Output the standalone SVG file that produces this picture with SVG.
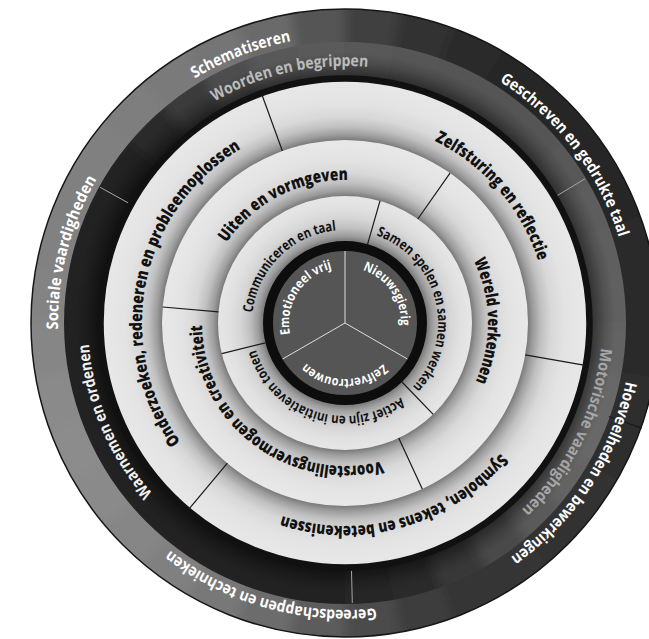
<svg xmlns="http://www.w3.org/2000/svg" width="649" height="639" viewBox="0 0 649 639">
<defs>
<style>
.lbl{font-family:"Open Sans","Noto Sans","DejaVu Sans",sans-serif;text-anchor:middle}
.b1t{font-size:16px;font-weight:700;fill:#ffffff}
.b2t{font-size:16px;font-weight:700}
.rt{font-size:17px;font-weight:800;fill:#111111}
.rc{font-size:14px;font-weight:700;fill:#111111}
.ct{font-size:13px;font-weight:700;fill:#ffffff}
.w1{fill:none;stroke-width:60}
.div{stroke:#1a1a1a;stroke-width:1.2;fill:none}
.divl{stroke:#a6a6a6;stroke-width:1;fill:none}
.spoke{stroke:#dddddd;stroke-width:1;fill:none}
</style>
<filter id="soft" filterUnits="userSpaceOnUse" x="-30" y="-30" width="750" height="720"><feGaussianBlur stdDeviation="6"/></filter>
<clipPath id="clip1"><path clip-rule="evenodd" d="M659 323A314 314 0 1 1 31 323A314 314 0 1 1 659 323ZM625 323A280 280 0 1 1 65 323A280 280 0 1 1 625 323Z"/></clipPath>
<clipPath id="clip2"><path clip-rule="evenodd" d="M626 323A281 281 0 1 1 64 323A281 281 0 1 1 626 323ZM592 323A247 247 0 1 1 98 323A247 247 0 1 1 592 323Z"/></clipPath>
<radialGradient id="shade2" gradientUnits="userSpaceOnUse" cx="345" cy="323" r="280">
<stop offset="0" stop-color="#000" stop-opacity="0.45"/>
<stop offset="0.885" stop-color="#000" stop-opacity="0.45"/>
<stop offset="0.93" stop-color="#000" stop-opacity="0.15"/>
<stop offset="0.965" stop-color="#000" stop-opacity="0"/>
<stop offset="1" stop-color="#000" stop-opacity="0"/>
</radialGradient>
<radialGradient id="gA" gradientUnits="userSpaceOnUse" cx="345" cy="323" r="244.5">
<stop offset="0.748" stop-color="#7a7a7a"/>
<stop offset="0.77" stop-color="#9c9c9c"/>
<stop offset="0.803" stop-color="#c0c0c0"/>
<stop offset="0.844" stop-color="#d8d8d8"/>
<stop offset="0.9" stop-color="#e3e3e3"/>
<stop offset="1" stop-color="#e8e8e8"/>
</radialGradient>
<radialGradient id="gB" gradientUnits="userSpaceOnUse" cx="345" cy="323" r="183">
<stop offset="0.694" stop-color="#7a7a7a"/>
<stop offset="0.721" stop-color="#9c9c9c"/>
<stop offset="0.765" stop-color="#c0c0c0"/>
<stop offset="0.82" stop-color="#d8d8d8"/>
<stop offset="0.896" stop-color="#e3e3e3"/>
<stop offset="1" stop-color="#e8e8e8"/>
</radialGradient>
<radialGradient id="gC" gradientUnits="userSpaceOnUse" cx="345" cy="323" r="127">
<stop offset="0.6457" stop-color="#7a7a7a"/>
<stop offset="0.685" stop-color="#9c9c9c"/>
<stop offset="0.748" stop-color="#c0c0c0"/>
<stop offset="0.827" stop-color="#d6d6d6"/>
<stop offset="0.913" stop-color="#e1e1e1"/>
<stop offset="1" stop-color="#e6e6e6"/>
</radialGradient>
<path id="p56" d="M401 323A56 56 0 0 1 289 323A56 56 0 0 1 401 323A56 56 0 0 1 289 323A56 56 0 0 1 401 323"/>
<path id="p93" d="M438 323A93 93 0 0 1 252 323A93 93 0 0 1 438 323A93 93 0 0 1 252 323A93 93 0 0 1 438 323"/>
<path id="p143" d="M488 323A143 143 0 0 1 202 323A143 143 0 0 1 488 323A143 143 0 0 1 202 323A143 143 0 0 1 488 323"/>
<path id="p203" d="M548 323A203 203 0 0 1 142 323A203 203 0 0 1 548 323A203 203 0 0 1 142 323A203 203 0 0 1 548 323"/>
<path id="p257" d="M602 323A257 257 0 0 1 88 323A257 257 0 0 1 602 323A257 257 0 0 1 88 323A257 257 0 0 1 602 323"/>
<path id="p287" d="M632 323A287 287 0 0 1 58 323A287 287 0 0 1 632 323A287 287 0 0 1 58 323A287 287 0 0 1 632 323"/>
</defs>

<rect width="649" height="639" fill="#ffffff"/>

<!-- outer band 1 -->
<g clip-path="url(#clip1)">
<g filter="url(#soft)">
<g class="w1" stroke-dasharray="10.6 349.4">
<circle cx="345" cy="323" r="297" pathLength="360" stroke="#2c2c2c" transform="rotate(0 345 323)"/>
<circle cx="345" cy="323" r="297" pathLength="360" stroke="#2e2e2e" transform="rotate(10 345 323)"/>
<circle cx="345" cy="323" r="297" pathLength="360" stroke="#2f2f2f" transform="rotate(20 345 323)"/>
<circle cx="345" cy="323" r="297" pathLength="360" stroke="#313131" transform="rotate(30 345 323)"/>
<circle cx="345" cy="323" r="297" pathLength="360" stroke="#333333" transform="rotate(40 345 323)"/>
<circle cx="345" cy="323" r="297" pathLength="360" stroke="#343434" transform="rotate(50 345 323)"/>
<circle cx="345" cy="323" r="297" pathLength="360" stroke="#363636" transform="rotate(60 345 323)"/>
<circle cx="345" cy="323" r="297" pathLength="360" stroke="#3e3e3e" transform="rotate(70 345 323)"/>
<circle cx="345" cy="323" r="297" pathLength="360" stroke="#4c4c4c" transform="rotate(80 345 323)"/>
<circle cx="345" cy="323" r="297" pathLength="360" stroke="#5c5c5c" transform="rotate(90 345 323)"/>
<circle cx="345" cy="323" r="297" pathLength="360" stroke="#6c6c6c" transform="rotate(100 345 323)"/>
<circle cx="345" cy="323" r="297" pathLength="360" stroke="#787878" transform="rotate(110 345 323)"/>
<circle cx="345" cy="323" r="297" pathLength="360" stroke="#808080" transform="rotate(120 345 323)"/>
<circle cx="345" cy="323" r="297" pathLength="360" stroke="#868686" transform="rotate(130 345 323)"/>
<circle cx="345" cy="323" r="297" pathLength="360" stroke="#8a8a8a" transform="rotate(140 345 323)"/>
<circle cx="345" cy="323" r="297" pathLength="360" stroke="#8c8c8c" transform="rotate(150 345 323)"/>
<circle cx="345" cy="323" r="297" pathLength="360" stroke="#8a8a8a" transform="rotate(160 345 323)"/>
<circle cx="345" cy="323" r="297" pathLength="360" stroke="#868686" transform="rotate(170 345 323)"/>
<circle cx="345" cy="323" r="297" pathLength="360" stroke="#838383" transform="rotate(180 345 323)"/>
<circle cx="345" cy="323" r="297" pathLength="360" stroke="#818181" transform="rotate(190 345 323)"/>
<circle cx="345" cy="323" r="297" pathLength="360" stroke="#808080" transform="rotate(200 345 323)"/>
<circle cx="345" cy="323" r="297" pathLength="360" stroke="#808080" transform="rotate(210 345 323)"/>
<circle cx="345" cy="323" r="297" pathLength="360" stroke="#7e7e7e" transform="rotate(220 345 323)"/>
<circle cx="345" cy="323" r="297" pathLength="360" stroke="#7a7a7a" transform="rotate(230 345 323)"/>
<circle cx="345" cy="323" r="297" pathLength="360" stroke="#747474" transform="rotate(240 345 323)"/>
<circle cx="345" cy="323" r="297" pathLength="360" stroke="#6a6a6a" transform="rotate(250 345 323)"/>
<circle cx="345" cy="323" r="297" pathLength="360" stroke="#555555" transform="rotate(260 345 323)"/>
<circle cx="345" cy="323" r="297" pathLength="360" stroke="#404040" transform="rotate(270 345 323)"/>
<circle cx="345" cy="323" r="297" pathLength="360" stroke="#323232" transform="rotate(280 345 323)"/>
<circle cx="345" cy="323" r="297" pathLength="360" stroke="#2a2a2a" transform="rotate(290 345 323)"/>
<circle cx="345" cy="323" r="297" pathLength="360" stroke="#282828" transform="rotate(300 345 323)"/>
<circle cx="345" cy="323" r="297" pathLength="360" stroke="#272727" transform="rotate(310 345 323)"/>
<circle cx="345" cy="323" r="297" pathLength="360" stroke="#262626" transform="rotate(320 345 323)"/>
<circle cx="345" cy="323" r="297" pathLength="360" stroke="#272727" transform="rotate(330 345 323)"/>
<circle cx="345" cy="323" r="297" pathLength="360" stroke="#292929" transform="rotate(340 345 323)"/>
<circle cx="345" cy="323" r="297" pathLength="360" stroke="#2b2b2b" transform="rotate(350 345 323)"/>
</g>
</g>
</g>

<!-- band 2 -->
<g clip-path="url(#clip2)">
<g filter="url(#soft)">
<g class="w1" stroke-dasharray="10.6 349.4">
<circle cx="345" cy="323" r="263.5" pathLength="360" stroke="#636363" transform="rotate(0 345 323)"/>
<circle cx="345" cy="323" r="263.5" pathLength="360" stroke="#686868" transform="rotate(10 345 323)"/>
<circle cx="345" cy="323" r="263.5" pathLength="360" stroke="#686868" transform="rotate(20 345 323)"/>
<circle cx="345" cy="323" r="263.5" pathLength="360" stroke="#636363" transform="rotate(30 345 323)"/>
<circle cx="345" cy="323" r="263.5" pathLength="360" stroke="#5a5a5a" transform="rotate(40 345 323)"/>
<circle cx="345" cy="323" r="263.5" pathLength="360" stroke="#494949" transform="rotate(50 345 323)"/>
<circle cx="345" cy="323" r="263.5" pathLength="360" stroke="#393939" transform="rotate(60 345 323)"/>
<circle cx="345" cy="323" r="263.5" pathLength="360" stroke="#2c2c2c" transform="rotate(70 345 323)"/>
<circle cx="345" cy="323" r="263.5" pathLength="360" stroke="#282828" transform="rotate(80 345 323)"/>
<circle cx="345" cy="323" r="263.5" pathLength="360" stroke="#222222" transform="rotate(90 345 323)"/>
<circle cx="345" cy="323" r="263.5" pathLength="360" stroke="#222222" transform="rotate(100 345 323)"/>
<circle cx="345" cy="323" r="263.5" pathLength="360" stroke="#222222" transform="rotate(110 345 323)"/>
<circle cx="345" cy="323" r="263.5" pathLength="360" stroke="#222222" transform="rotate(120 345 323)"/>
<circle cx="345" cy="323" r="263.5" pathLength="360" stroke="#222222" transform="rotate(130 345 323)"/>
<circle cx="345" cy="323" r="263.5" pathLength="360" stroke="#222222" transform="rotate(140 345 323)"/>
<circle cx="345" cy="323" r="263.5" pathLength="360" stroke="#222222" transform="rotate(150 345 323)"/>
<circle cx="345" cy="323" r="263.5" pathLength="360" stroke="#222222" transform="rotate(160 345 323)"/>
<circle cx="345" cy="323" r="263.5" pathLength="360" stroke="#222222" transform="rotate(170 345 323)"/>
<circle cx="345" cy="323" r="263.5" pathLength="360" stroke="#222222" transform="rotate(180 345 323)"/>
<circle cx="345" cy="323" r="263.5" pathLength="360" stroke="#222222" transform="rotate(190 345 323)"/>
<circle cx="345" cy="323" r="263.5" pathLength="360" stroke="#222222" transform="rotate(200 345 323)"/>
<circle cx="345" cy="323" r="263.5" pathLength="360" stroke="#242424" transform="rotate(210 345 323)"/>
<circle cx="345" cy="323" r="263.5" pathLength="360" stroke="#2a2a2a" transform="rotate(220 345 323)"/>
<circle cx="345" cy="323" r="263.5" pathLength="360" stroke="#3a3a3a" transform="rotate(230 345 323)"/>
<circle cx="345" cy="323" r="263.5" pathLength="360" stroke="#4e4e4e" transform="rotate(240 345 323)"/>
<circle cx="345" cy="323" r="263.5" pathLength="360" stroke="#585858" transform="rotate(250 345 323)"/>
<circle cx="345" cy="323" r="263.5" pathLength="360" stroke="#5a5a5a" transform="rotate(260 345 323)"/>
<circle cx="345" cy="323" r="263.5" pathLength="360" stroke="#595959" transform="rotate(270 345 323)"/>
<circle cx="345" cy="323" r="263.5" pathLength="360" stroke="#565656" transform="rotate(280 345 323)"/>
<circle cx="345" cy="323" r="263.5" pathLength="360" stroke="#555555" transform="rotate(290 345 323)"/>
<circle cx="345" cy="323" r="263.5" pathLength="360" stroke="#545454" transform="rotate(300 345 323)"/>
<circle cx="345" cy="323" r="263.5" pathLength="360" stroke="#545454" transform="rotate(310 345 323)"/>
<circle cx="345" cy="323" r="263.5" pathLength="360" stroke="#595959" transform="rotate(320 345 323)"/>
<circle cx="345" cy="323" r="263.5" pathLength="360" stroke="#5d5d5d" transform="rotate(330 345 323)"/>
<circle cx="345" cy="323" r="263.5" pathLength="360" stroke="#5f5f5f" transform="rotate(340 345 323)"/>
<circle cx="345" cy="323" r="263.5" pathLength="360" stroke="#606060" transform="rotate(350 345 323)"/>
</g>
</g>
</g>
<circle cx="345" cy="323" r="280" fill="url(#shade2)"/>
<circle cx="345" cy="323" r="314" fill="none" stroke="#161616" stroke-width="1.5"/>

<!-- inner rings -->
<circle cx="345" cy="323" r="244.5" fill="url(#gA)"/>
<circle cx="345" cy="323" r="244.5" fill="none" stroke="#111111" stroke-width="6.5"/>
<circle cx="345" cy="323" r="183" fill="url(#gB)"/>
<circle cx="345" cy="323" r="127" fill="url(#gC)"/>
<circle cx="345" cy="323" r="77" fill="#555555" stroke="#0d0d0d" stroke-width="10"/>

<!-- connectors / dividers -->
<g id="connectors">
<line class="divl" x1="351.5" y1="570.9" x2="352.3" y2="602.9"/>
<line class="divl" x1="128.1" y1="202.8" x2="100.1" y2="187.3"/>
<line class="divl" x1="557.6" y1="195.3" x2="585" y2="178.8"/>
<line class="div" x1="608.9" y1="416.5" x2="641.9" y2="428.1" stroke="#1e1e1e"/>
<line class="div" x1="525.2" y1="354.8" x2="585.3" y2="365.4"/>
<line class="div" x1="227.4" y1="463.2" x2="188.2" y2="509.9"/>
<line class="div" x1="282.4" y1="151" x2="261.6" y2="93.7"/>
<line class="div" x1="398.7" y1="438.1" x2="422.3" y2="488.9"/>
<line class="div" x1="218.5" y1="311.9" x2="162.7" y2="307"/>
<line class="div" x1="417.8" y1="219" x2="450" y2="173.1"/>
<line class="div" x1="402" y1="382" x2="433.2" y2="414.4"/>
<line class="div" x1="265.4" y1="342.8" x2="221.8" y2="353.7"/>
<line class="div" x1="367.6" y1="244.2" x2="380" y2="200.9"/>
<line class="spoke" x1="345" y1="323" x2="345" y2="251"/>
<line class="spoke" x1="345" y1="323" x2="407.4" y2="359"/>
<line class="spoke" x1="345" y1="323" x2="282.6" y2="359"/>
</g>

<!-- band 1 labels -->
<g id="schematiseren"><text class="lbl b1t"><textPath href="#p287" startOffset="1245.3" textLength="103.7" lengthAdjust="spacingAndGlyphs">Schematiseren</textPath></text></g>
<g id="geschreven"><text class="lbl b1t"><textPath href="#p287" startOffset="1614.9" textLength="200.4" lengthAdjust="spacingAndGlyphs">Geschreven en gedrukte taal</textPath></text></g>
<g id="hoeveelheden"><text class="lbl b1t"><textPath href="#p287" startOffset="166.3" textLength="215.4" lengthAdjust="spacingAndGlyphs">Hoeveelheden en bewerkingen</textPath></text></g>
<g id="gereedschappen"><text class="lbl b1t"><textPath href="#p287" startOffset="529" textLength="219.4" lengthAdjust="spacingAndGlyphs">Gereedschappen en technieken</textPath></text></g>
<g id="sociale"><text class="lbl b1t"><textPath href="#p287" startOffset="973.3" textLength="157.3" lengthAdjust="spacingAndGlyphs">Sociale vaardigheden</textPath></text></g>

<!-- band 2 labels -->
<g id="woorden"><text class="lbl b2t" fill="#bcbcbc"><textPath href="#p257" startOffset="1153.7" textLength="159.7" lengthAdjust="spacingAndGlyphs">Woorden en begrippen</textPath></text></g>
<g id="motorische"><text class="lbl b2t" fill="#a6a6a6"><textPath href="#p257" startOffset="117.1" textLength="183.9" lengthAdjust="spacingAndGlyphs">Motorische vaardigheden</textPath></text></g>
<g id="waarnemen"><text class="lbl b2t" fill="#f2f2f2"><textPath href="#p257" startOffset="703.3" textLength="165.1" lengthAdjust="spacingAndGlyphs">Waarnemen en ordenen</textPath></text></g>

<!-- ring A labels -->
<g id="onderzoeken"><text class="lbl rt"><textPath href="#p203" startOffset="678.5" textLength="336.6" lengthAdjust="spacingAndGlyphs">Onderzoeken, redeneren en probleemoplossen</textPath></text></g>
<g id="zelfsturing"><text class="lbl rt"><textPath href="#p203" startOffset="1130.2" textLength="163" lengthAdjust="spacingAndGlyphs">Zelfsturing en reflectie</textPath></text></g>
<g id="symbolen"><text class="lbl rt"><textPath href="#p203" startOffset="262.2" textLength="240.9" lengthAdjust="spacingAndGlyphs">Symbolen, tekens en betekenissen</textPath></text></g>

<!-- ring B labels -->
<g id="uiten"><text class="lbl rt"><textPath href="#p143" startOffset="605.2" textLength="142.3" lengthAdjust="spacingAndGlyphs">Uiten en vormgeven</textPath></text></g>
<g id="wereld"><text class="lbl rt"><textPath href="#p143" startOffset="896" textLength="124.8" lengthAdjust="spacingAndGlyphs">Wereld verkennen</textPath></text></g>
<g id="voorstelling"><text class="lbl rt"><textPath href="#p143" startOffset="317" textLength="259.6" lengthAdjust="spacingAndGlyphs">Voorstellingsvermogen en creativiteit</textPath></text></g>

<!-- ring C labels -->
<g id="communiceren"><text class="lbl rc"><textPath href="#p93" startOffset="365.2" textLength="126.6" lengthAdjust="spacingAndGlyphs">Communiceren en taal</textPath></text></g>
<g id="samen"><text class="lbl rc"><textPath href="#p93" startOffset="561.3" textLength="184.4" lengthAdjust="spacingAndGlyphs">Samen spelen en samen werken</textPath></text></g>
<g id="actief"><text class="lbl rc"><textPath href="#p93" startOffset="175.3" textLength="178.5" lengthAdjust="spacingAndGlyphs">Actief zijn en initiatieven tonen</textPath></text></g>

<!-- core labels -->
<g id="emotioneel"><text class="lbl ct"><textPath href="#p56" startOffset="207.2" textLength="86" lengthAdjust="spacingAndGlyphs">Emotioneel vrij</textPath></text></g>
<g id="nieuwsgierig"><text class="lbl ct"><textPath href="#p56" startOffset="317.6" textLength="72.3" lengthAdjust="spacingAndGlyphs">Nieuwsgierig</textPath></text></g>
<g id="zelfvertrouwen"><text class="lbl ct"><textPath href="#p56" startOffset="88.45" textLength="85" lengthAdjust="spacingAndGlyphs">Zelfvertrouwen</textPath></text></g>
</svg>
